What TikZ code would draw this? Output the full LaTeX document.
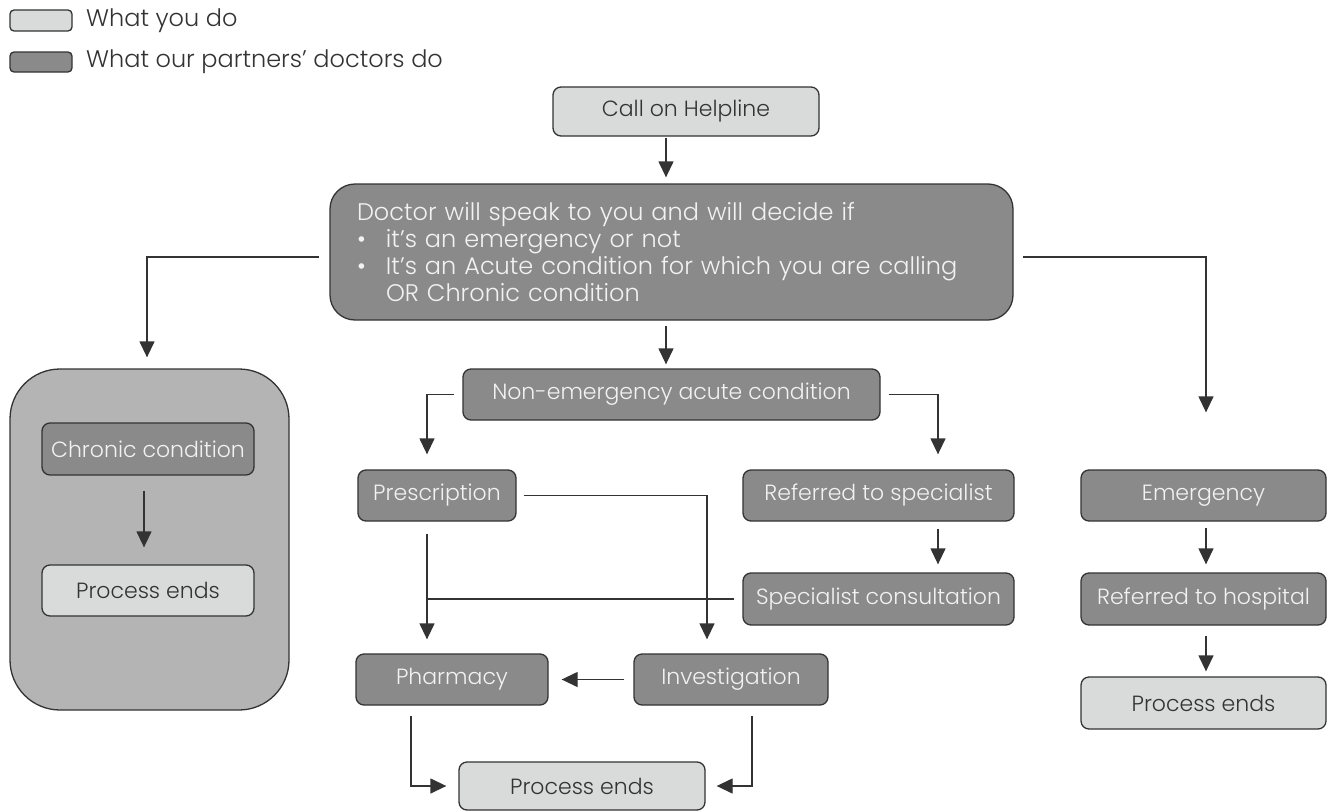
\documentclass[tikz,border=0pt]{standalone}
\usepackage{fontspec}
\setmainfont{Poppins Light}
\usetikzlibrary{arrows.meta}
\definecolor{lightbox}{HTML}{D9DBDA}
\definecolor{darkbox}{HTML}{8A8A8A}
\definecolor{midbox}{HTML}{B3B4B3}
\definecolor{edge}{HTML}{333333}
\definecolor{ltext}{HTML}{F2F2F2}
\tikzset{
  base/.style={draw=edge, line width=1.3pt, rounded corners=8pt, inner sep=0pt,
    font=\fontsize{22}{27}\selectfont},
  light/.style={base, fill=lightbox, text=edge},
  dark/.style={base, fill=darkbox, text=ltext},
  arr/.style={draw=edge, line width=1.3pt, -{Triangle[width=15pt,length=16pt]}},
  ln/.style={draw=edge, line width=1.3pt},
  legtxt/.style={anchor=west, text=edge, inner sep=0pt, font=\fontsize{24}{28}\selectfont}
}
\begin{document}
\begin{tikzpicture}[x=1pt,y=-1pt]
\useasboundingbox (0,0) rectangle (1333,811);
% column coordinates
\coordinate (cx) at (666,0);
\coordinate (lx) at (147,0);
\coordinate (rx) at (1206,0);
\coordinate (plx) at (427,0);
\coordinate (prx) at (707,0);
\coordinate (nrx) at (938,0);
\coordinate (chx) at (144,0);
\coordinate (phx) at (411,0);
\coordinate (ivx) at (752,0);
\coordinate (dy) at (0,257);
% legend
\node[light, rounded corners=4pt, minimum width=62pt, minimum height=21pt] (leg1) at (41,20.5) {};
\node[legtxt] (leg1t) at (86,21) {What you do};
\node[dark, rounded corners=4pt, minimum width=62pt, minimum height=20pt] (leg2) at (41,62) {};
\node[legtxt] (leg2t) at (86,62) {What our partners’ doctors do};
% nodes
\node[light, minimum width=266pt, minimum height=49pt] (call) at (686,111.5) {Call on Helpline};
\node[dark, rounded corners=25pt, text width=629pt, inner xsep=27pt, minimum height=136pt, align=left,
  font=\fontsize{24}{27}\selectfont] (doc) at (671.5,252)
  {Doctor will speak to you and will decide if\\
   \makebox[29pt][l]{•}it’s an emergency or not\\
   \makebox[29pt][l]{•}It’s an Acute condition for which you are calling\\
   \hspace*{29pt}OR Chronic condition};
\node[dark, minimum width=417pt, minimum height=51pt] (ne) at (671.5,394.5) {Non-emergency acute condition};
\node[base, fill=midbox, rounded corners=50pt, minimum width=279pt, minimum height=341pt] (chronbox) at (149.5,539.5) {};
\node[dark, minimum width=212pt, minimum height=52pt] (chron) at (148,449) {Chronic condition};
\node[light, minimum width=212pt, minimum height=51pt] (pe1) at (148,590.5) {Process ends};
\node[dark, minimum width=158pt, minimum height=51pt] (presc) at (437,495.5) {Prescription};
\node[dark, minimum width=271pt, minimum height=51pt] (refspec) at (878.5,495.5) {Referred to specialist};
\node[dark, minimum width=271pt, minimum height=52pt] (speccons) at (878.5,599) {Specialist consultation};
\node[dark, minimum width=192pt, minimum height=51pt] (pharm) at (452,679.5) {Pharmacy};
\node[dark, minimum width=194pt, minimum height=51pt] (invest) at (731,679.5) {Investigation};
\node[light, minimum width=246pt, minimum height=48pt] (pe2) at (582,786) {Process ends};
\node[dark, minimum width=245pt, minimum height=51pt] (emerg) at (1203.5,495.5) {Emergency};
\node[dark, minimum width=245pt, minimum height=52pt] (hosp) at (1203.5,599) {Referred to hospital};
\node[light, minimum width=245pt, minimum height=52pt] (pe3) at (1203.5,703) {Process ends};
% connectors
\draw[arr, shorten <=1pt, shorten >=6pt] (call.south -| cx) -- (doc.north -| cx);
\draw[arr, shorten <=5pt, shorten >=4pt] (doc.south -| cx) -- (ne.north -| cx);
\draw[arr, shorten <=10pt, shorten >=11pt] (doc.west |- dy) -| (chronbox.north -| lx);
\draw[arr, shorten <=9pt, shorten >=57pt] (doc.east |- dy) -| (emerg.north -| rx);
\draw[arr, shorten <=8pt, shorten >=15pt] (ne.west) -| (presc.north -| plx);
\draw[arr, shorten <=8pt, shorten >=15pt] (ne.east) -| (refspec.north -| nrx);
\draw[arr, shorten <=7pt, shorten >=8pt] (refspec.south -| nrx) -- (speccons.north -| nrx);
\draw[arr, shorten <=12pt, shorten >=14pt] (presc.south -| plx) -- (pharm.north -| plx);
\draw[ln, shorten <=8pt] (speccons.west) -- (speccons.west -| plx);
\draw[arr, shorten <=7pt, shorten >=14pt] (presc.east) -| (invest.north -| prx);
\draw[arr, shorten <=9pt, shorten >=13pt] (invest.west) -- (pharm.east);
\draw[arr, shorten <=10pt, shorten >=12pt] (pharm.south -| phx) |- (pe2.west);
\draw[arr, shorten <=10pt, shorten >=11pt] (invest.south -| ivx) |- (pe2.east);
\draw[arr, shorten <=15pt, shorten >=17pt] (chron.south -| chx) -- (pe1.north -| chx);
\draw[arr, shorten <=6pt, shorten >=8pt] (emerg.south -| rx) -- (hosp.north -| rx);
\draw[arr, shorten <=10pt, shorten >=5pt] (hosp.south -| rx) -- (pe3.north -| rx);
\end{tikzpicture}
\end{document}
